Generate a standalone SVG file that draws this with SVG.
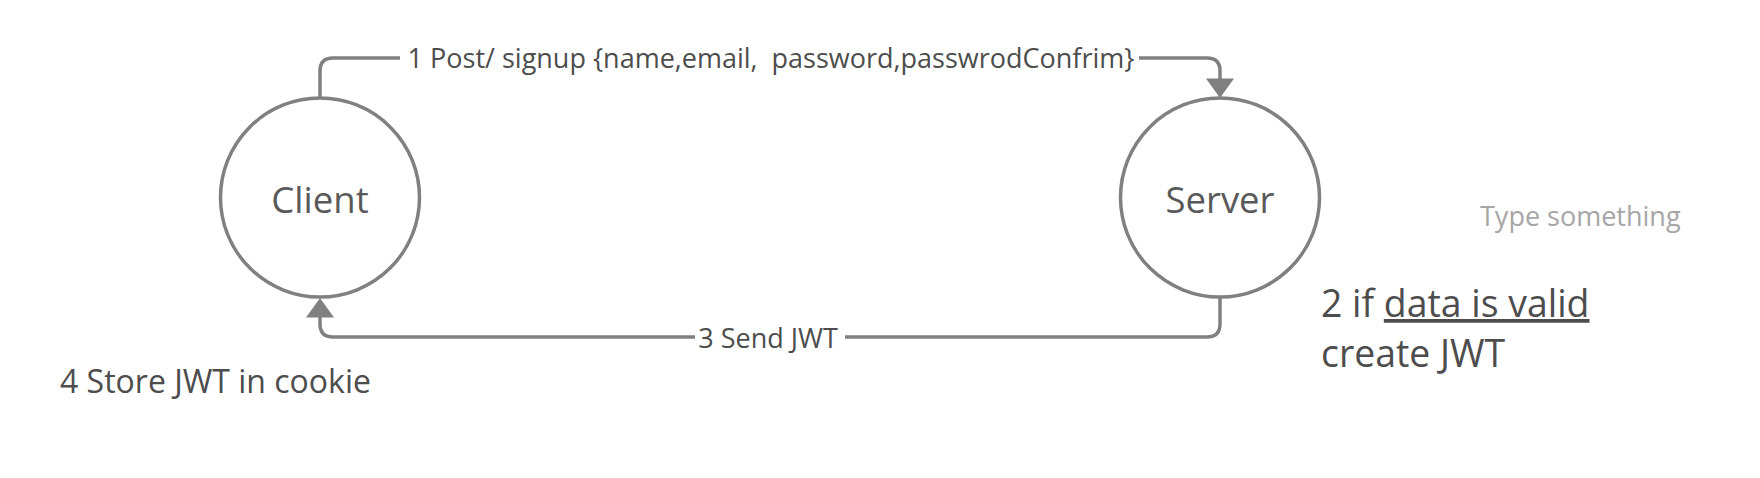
<svg xmlns="http://www.w3.org/2000/svg" width="1760" height="478" viewBox="0 0 1760 478">
<style>
.node{fill:#ffffff;stroke:#808080;stroke-width:3.5}
.conn{fill:none;stroke:#808080;stroke-width:3.5}
.head{fill:#808080;stroke:none}
.lbl{font-family:"Open Sans","Noto Sans","Liberation Sans",sans-serif;fill:#4d4d4d}
.nlbl{font-family:"Open Sans","Noto Sans","Liberation Sans",sans-serif;fill:#595959;font-size:36.5px;text-anchor:middle}
.clbl{font-size:27px;text-anchor:middle;white-space:pre}
</style>
<rect width="1760" height="478" fill="#ffffff"/>
<g id="connectors">
<g id="conn-signup">
<path class="conn" d="M320,97 L320,71 Q320,58 333,58 L400,58 M1139,58 L1207,58 Q1220,58 1220,71 L1220,81"/>
<polygon class="head" points="1206,78.5 1234,78.5 1220,98"/>
<text class="lbl clbl" x="771" y="68" xml:space="preserve">1 Post/ signup {name,email,  password,passwrodConfrim}</text>
</g>
<g id="conn-jwt">
<path class="conn" d="M1220,298 L1220,324 Q1220,337 1207,337 L845,337 M695,337 L333,337 Q320,337 320,324 L320,315"/>
<polygon class="head" points="306,317.5 334,317.5 320,298"/>
<text class="lbl clbl" x="768" y="348">3 Send JWT</text>
</g>
</g>
<g id="client">
<circle class="node" cx="320" cy="197.5" r="99.5"/>
<text class="nlbl" x="320" y="212.5">Client</text>
</g>
<g id="server">
<circle class="node" cx="1220" cy="197.5" r="99.5"/>
<text class="nlbl" x="1220" y="212.5">Server</text>
</g>
<g id="note-type">
<text class="lbl" x="1480" y="225.5" font-size="27" style="fill:#a6a6a6">Type something</text>
</g>
<g id="note-valid">
<text class="lbl" x="1321" y="317" font-size="37.4">2 if <tspan text-decoration="underline">data is valid</tspan></text>
<text class="lbl" x="1321" y="367" font-size="37.4">create JWT</text>
</g>
<g id="note-store">
<text class="lbl" x="60" y="392.5" font-size="32">4 Store JWT in cookie</text>
</g>
</svg>
